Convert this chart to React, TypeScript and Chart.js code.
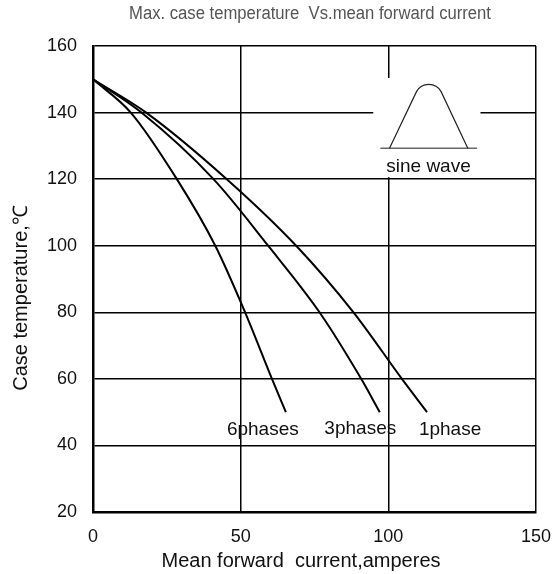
import React, { useEffect, useRef } from "react";
import { Chart, registerables } from "chart.js";
Chart.register(...registerables);

const xTicks = [0, 50, 100, 150];
const yTicks = [20, 40, 60, 80, 100, 120, 140, 160];
const seriesNames = ["6phases", "3phases", "1phase"];
const phase6Current = [0, 12.8, 28.4, 41.4, 51.5, 60.6, 65.3];
const phase6Temp = [150, 140, 120, 100, 80, 60, 50];
const phase3Current = [0, 16.4, 40.8, 59.3, 76.7, 90.8, 97.1];
const phase3Temp = [150, 140, 120, 100, 80, 60, 50];
const phase1Current = [0, 18.0, 45.3, 68.8, 88.2, 104.6, 113.1];
const phase1Temp = [150, 140, 120, 100, 80, 60, 50];
const labelX = [57.5, 90.5, 120.9];
const labelY = [44.6, 45.1, 44.6];
const titleText = "Max. case temperature  Vs.mean forward current";
const xTitle = "Mean forward  current,amperes";
const yTitle = "Case temperature,\u2103";
const insetText = "sine wave";

const FONT = "'Liberation Sans', Arial, sans-serif";

export default function App() {
  const ref = useRef<HTMLCanvasElement>(null);
  useEffect(() => {
    const overlay = {
      id: "overlay",
      afterDraw(chart: any) {
        const ctx = chart.ctx;
        const xs = chart.scales.x;
        const ys = chart.scales.y;
        const X = (v: number) => xs.getPixelForValue(v);
        const Y = (v: number) => ys.getPixelForValue(v);
        ctx.save();
        // inset white box
        ctx.fillStyle = "#fff";
        ctx.fillRect(X(94.9), Y(150.4), X(131.2) - X(94.9), Y(120.6) - Y(150.4));
        // pulse
        const by = Y(129.3);
        const py = Y(148.6);
        const sx = X(100.4);
        const px = X(113.7);
        const ex = X(126.9);
        ctx.strokeStyle = "#666";
        ctx.lineWidth = 1.5;
        ctx.beginPath();
        ctx.moveTo(X(97.3), by);
        ctx.lineTo(X(130), by);
        ctx.stroke();
        ctx.strokeStyle = "#222";
        ctx.lineWidth = 1.2;
        ctx.beginPath();
        ctx.moveTo(sx, by);
        ctx.lineTo(px - 12.3, py + 7.7);
        ctx.bezierCurveTo(px - 7, py - 2, px + 7, py - 2, px + 12.3, py + 7.7);
        ctx.lineTo(ex, by);
        ctx.stroke();
        ctx.fillStyle = "#111";
        ctx.textAlign = "center";
        ctx.textBaseline = "middle";
        ctx.font = `19px ${FONT}`;
        ctx.fillText(insetText, X(113.6), Y(123.7));
        // curve labels
        seriesNames.forEach((n, i) => {
          ctx.fillText(n, X(labelX[i]), Y(labelY[i]));
        });
        // titles
        ctx.font = `20px ${FONT}`;
        ctx.fillText(xTitle, 301, 561);
        ctx.save();
        ctx.translate(21, 298);
        ctx.rotate(-Math.PI / 2);
        ctx.fillText(yTitle, 0, 0);
        ctx.restore();
        ctx.fillStyle = "#555";
        ctx.font = `18px ${FONT}`;
        const w = ctx.measureText(titleText).width;
        ctx.save();
        ctx.translate(310, 14);
        ctx.scale(362 / w, 1);
        ctx.fillText(titleText, 0, 0);
        ctx.restore();
        ctx.restore();
      },
    };
    const mk = (xsArr: number[], ysArr: number[]) =>
      xsArr.map((x, i) => ({ x, y: ysArr[i] }));
    const ds = (data: any) => ({
      data,
      borderColor: "#000",
      borderWidth: 2,
      pointRadius: 0,
      fill: false,
      cubicInterpolationMode: "monotone" as const,
    });
    const chart = new Chart(ref.current as HTMLCanvasElement, {
      type: "line",
      data: {
        datasets: [
          ds(mk(phase6Current, phase6Temp)),
          ds(mk(phase3Current, phase3Temp)),
          ds(mk(phase1Current, phase1Temp)),
        ],
      },
      options: {
        animation: false,
        responsive: false,
        maintainAspectRatio: false,
        layout: { padding: { top: 46, right: 23, left: 0, bottom: 0 } },
        plugins: {
          legend: { display: false },
          tooltip: { enabled: false },
          title: { display: false },
        },
        scales: {
          x: {
            type: "linear",
            min: 0,
            max: 150,
            afterBuildTicks: (s: any) => {
              s.ticks = xTicks.map((v) => ({ value: v }));
            },
            afterFit: (s: any) => {
              s.height = 62;
              s.paddingLeft = 0;
              s.paddingRight = 0;
            },
            grid: { color: "#000", lineWidth: 1.5, drawTicks: false },
            border: { color: "#000", width: 2.5 },
            ticks: {
              font: { family: FONT, size: 18 },
              color: "#111",
              padding: 14,
              maxRotation: 0,
            },
          },
          y: {
            type: "linear",
            min: 20,
            max: 160,
            afterBuildTicks: (s: any) => {
              s.ticks = yTicks.map((v) => ({ value: v }));
            },
            afterFit: (s: any) => {
              s.width = 93;
              s.paddingTop = 0;
              s.paddingBottom = 0;
            },
            grid: { color: "#000", lineWidth: 1.5, drawTicks: false },
            border: { color: "#000", width: 2.5 },
            ticks: {
              font: { family: FONT, size: 18 },
              color: "#111",
              padding: 16,
            },
          },
        },
      },
      plugins: [overlay],
    });
    return () => chart.destroy();
  }, []);
  return (
    <div
      style={{
        position: "absolute",
        left: 0,
        top: 0,
        width: 559,
        height: 574,
        background: "#fff",
      }}
    >
      <canvas ref={ref} width={559} height={574} style={{ width: 559, height: 574, display: "block" }} />
    </div>
  );
}
